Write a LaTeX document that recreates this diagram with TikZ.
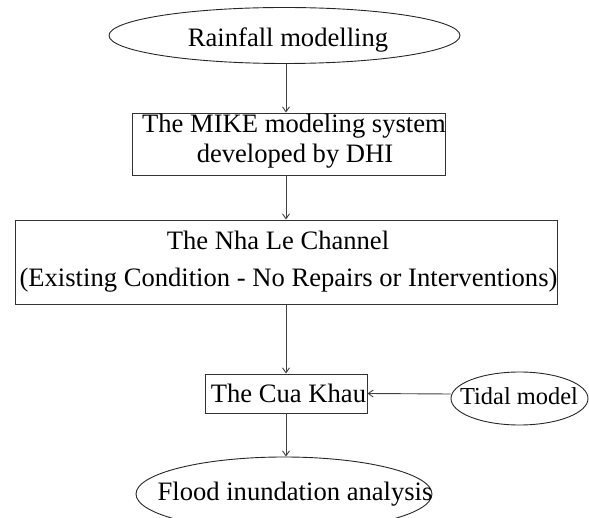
\documentclass[tikz,border=0pt]{standalone}
\usepackage{fontspec}
\setmainfont{Liberation Serif}
\usetikzlibrary{shapes.geometric,arrows.meta}
\tikzset{
  ell/.style={ellipse, draw=black!85, line width=0.9pt, inner sep=0pt},
  boxs/.style={rectangle, draw=black!80, line width=0.9pt, inner sep=0pt},
  txt/.style={inner sep=0pt, anchor=base, font=\fontsize{26.6}{30}\selectfont},
  arr/.style={draw=black!75, line width=0.9pt, -{Straight Barb[length=5pt,width=7pt]}}
}
\begin{document}
\begin{tikzpicture}[x=1pt,y=-1pt]
\useasboundingbox (0,0) rectangle (589,518);
% shapes
\node[ell, minimum width=351pt, minimum height=56pt] (rain) at (284.5,35.5) {};
\node[boxs, minimum width=313pt, minimum height=62pt] (mike) at (288.5,144) {};
\node[boxs, minimum width=542pt, minimum height=84pt] (nha) at (286,262) {};
\node[boxs, minimum width=162pt, minimum height=39pt] (cua) at (286,393.5) {};
\node[ell, minimum width=137pt, minimum height=53pt] (tidal) at (519.5,398.5) {};
\node[ell, minimum width=296pt, minimum height=74pt] (flood) at (284,494) {};
% texts
\node[txt] (rainT) at (288,46.5) {Rainfall modelling};
\node[txt] (mikeT1) at (294,133) {The MIKE modeling system};
\node[txt] (mikeT2) at (295,163) {developed by DHI};
\node[txt] (nhaT1) at (278,250) {The Nha Le Channel};
\node[txt] (nhaT2) at (288.5,287) {(Existing Condition - No Repairs or Interventions)};
\node[txt] (cuaT) at (288.5,402.5) {The Cua Khau};
\node[txt, font=\fontsize{24.4}{28}\selectfont] (tidalT) at (519,405) {Tidal model};
\node[txt] (floodT) at (295,500) {Flood inundation analysis};
% connectors
\coordinate (x0) at (286,0);
\draw[arr] (x0 |- rain.south) -- (x0 |- mike.north);
\draw[arr] (x0 |- mike.south) -- (x0 |- nha.north);
\draw[arr] (x0 |- nha.south) -- (x0 |- cua.north);
\draw[arr] (x0 |- cua.south) -- (x0 |- flood.north);
\draw[arr] ([yshift=4.5pt]tidal.west) -- (cua.east);
\end{tikzpicture}
\end{document}
